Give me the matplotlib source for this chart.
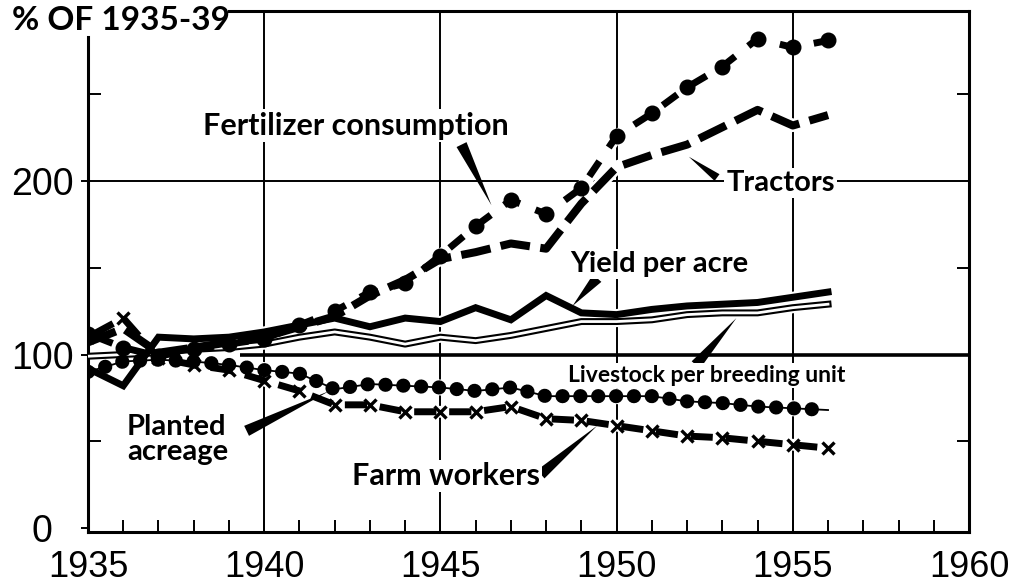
import matplotlib
matplotlib.use('Agg')
import matplotlib.pyplot as plt
from matplotlib.ticker import FixedLocator

# ---------------- data (index numbers, % of 1935-39) ----------------
years = list(range(1935, 1957))
fertilizer = [112, 104, 99, 103, 106, 109, 117, 125, 136, 141, 157, 174, 189, 181, 196,
              226, 239, 254, 266, 282, 277, 281]
tractors = [107, 115, 101, 104, 107, 110, 116, 122, 134, 143, 155, 159, 164, 161, 187,
            208, 215, 221, 231, 241, 232, 238]
yield_per_acre = [92, 82, 110, 109, 110, 113, 117, 121, 116, 121, 119, 127, 120, 134, 124,
                  123, 126, 128, 129, 130, 133, 136]
livestock = [99, 100, 101, 103, 104, 106, 110, 113, 110, 106, 110, 108, 111, 115, 119,
             119, 120, 123, 124, 124, 127, 129]
planted = [90, 96, 97, 96, 94, 91, 89, 80, 83, 82, 81, 79, 81, 76, 76,
           76, 76, 73, 72, 70, 69, 68]
farm_workers = [110, 121, 98, 94, 91, 85, 79, 71, 71, 67, 67, 67, 70, 63, 62,
                59, 56, 53, 52, 50, 48, 46]

x_major = [1935, 1940, 1945, 1950, 1955, 1960]
x_labels = ['1935', '1940', '1945', '1950', '1955', '1960']
y_major = [0, 100, 200]
y_labels = ['0', '100', '200']
y_minor = [50, 150, 250]
title = '% OF 1935-39'

LABEL_FONT = ['Lato', 'DejaVu Sans']
TICK_FONT = ['Liberation Sans', 'DejaVu Sans']

fig = plt.figure(figsize=(10.14, 5.87), dpi=100)
ax = fig.add_axes([88 / 1014, 55 / 587, 881 / 1014, 521 / 587])
ax.set_xlim(1935, 1960)
ax.set_ylim(-2.3, 298)

# grid lines
for gx in x_major[1:-1]:
    ax.axvline(gx, color='black', lw=1.4, zorder=1)
ax.axhline(200, color='black', lw=1.4, zorder=1)
ax.hlines(100, 1939.3, 1960, color='black', lw=2.6, zorder=1)

# white halos under every series
for vals, w in [(fertilizer, 9), (tractors, 9.5), (yield_per_acre, 8),
                (livestock, 8), (planted, 11.5), (farm_workers, 8.5)]:
    ax.plot(years, vals, color='white', lw=w, solid_capstyle='round',
            solid_joinstyle='round', zorder=2)

# Fertilizer consumption: dashes with dots
ax.plot(years, fertilizer, color='black', lw=5, linestyle=(3.8, (2.6, 2.4)),
        dash_capstyle='butt', zorder=6)
ax.plot(years, fertilizer, color='black', ls='none', marker='o', ms=10.5, zorder=6)

# Tractors: long heavy dashes
ax.plot(years, tractors, color='black', lw=5.8, linestyle=(0, (3.7, 1.3)),
        dash_capstyle='butt', zorder=5)

# Yield per acre: heavy solid line
ax.plot(years, yield_per_acre, color='black', lw=5, solid_joinstyle='miter', zorder=5)

# Livestock per breeding unit: double line
ax.plot(years, livestock, color='black', lw=5, zorder=4)
ax.plot(years, livestock, color='white', lw=2.0, zorder=4.1)

# Planted acreage: chain of dots
ax.plot(years, planted, color='black', lw=1.3, zorder=5)
ax.plot(years, planted, color='black', lw=10.2, linestyle=(0, (0.01, 1.25)),
        dash_capstyle='round', zorder=5)

# Farm workers: short dashes with x marks
ax.plot(years, farm_workers, color='black', lw=5, linestyle=(4.12, (3.2, 1.84)),
        dash_capstyle='butt', zorder=5)
ax.plot(years, farm_workers, color='black', ls='none', marker='x', ms=8, mew=2.4,
        zorder=6)

# ---------------- labels with wedge pointers ----------------
def label(text, x, y, size=21, **kw):
    ax.text(x, y, text, fontsize=size, fontweight='bold', family=LABEL_FONT,
            ha=kw.pop('ha', 'center'), va='center', zorder=8,
            bbox=dict(facecolor='white', edgecolor='none', pad=1.5), **kw)

def wedge(tip, tail, w=0.8):
    ax.annotate('', xy=tip, xytext=tail, zorder=7,
                arrowprops=dict(arrowstyle=f'wedge,tail_width={w}', color='black',
                                shrinkA=0, shrinkB=0, lw=0))

label('Fertilizer consumption', 1942.6, 232, size=22)
wedge((1946.45, 186), (1945.6, 221))
label('Tractors', 1954.65, 199)
wedge((1952.05, 214), (1952.85, 202), 0.6)
label('Yield per acre', 1951.2, 152, size=21)
wedge((1948.75, 128), (1949.45, 144))
label('Livestock per breeding unit', 1952.55, 88, size=16.5)
wedge((1953.4, 121), (1952.25, 94))
label('Planted\nacreage', 1936.1, 51, ha='left', linespacing=0.95)
wedge((1941.85, 79), (1939.5, 56))
label('Farm workers', 1945.15, 30, size=22)
wedge((1949.45, 59), (1947.85, 31))

# ---------------- axes frame & ticks ----------------
for s in ax.spines.values():
    s.set_linewidth(2.2)
ax.spines['left'].set_bounds(-2.3, 283)
ax.spines['top'].set_bounds(1939.0, 1960)

ax.set_xticks(x_major)
ax.set_xticklabels(x_labels, fontsize=26, family=TICK_FONT)
ax.xaxis.set_minor_locator(FixedLocator([y for y in range(1936, 1960) if y % 5]))
ax.tick_params(axis='x', which='both', direction='in', length=8.6, width=1.4,
               top=False, pad=13)

ax.set_yticks(y_major)
ax.set_yticklabels(y_labels, fontsize=27, family=TICK_FONT)
ax.yaxis.set_minor_locator(FixedLocator(y_minor))
ax.tick_params(axis='y', which='major', direction='out', length=5, width=1.4, pad=28)
ax.tick_params(axis='y', which='minor', direction='in', length=9, width=1.4,
               left=True, right=True)
for t in ax.get_yticklabels():
    t.set_horizontalalignment('center')

fig.text(12 / 1014, 1 - 20 / 587, title, ha='left', va='center', fontsize=24,
         fontweight='bold', family=LABEL_FONT)

fig.savefig('out.png', dpi=100, facecolor='white')
